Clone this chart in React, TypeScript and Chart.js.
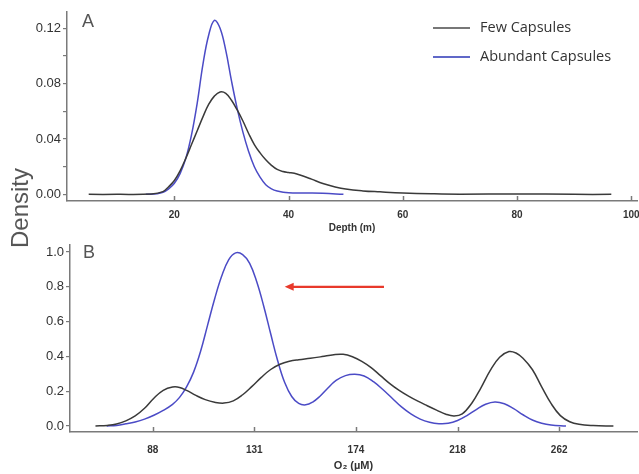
import React, { useEffect, useRef } from 'react';
import { Chart, registerables } from 'chart.js';
Chart.register(...registerables);

// ---- Panel A: density vs depth ----
const depthFewA = [5, 10, 16, 18, 19, 20, 21, 22, 23, 24, 25, 26, 27, 28, 29, 30, 31, 32, 33, 34, 35, 36, 37, 38, 39, 40, 41, 42, 44, 46, 48, 50, 53, 56, 60, 65, 70, 80, 90, 96.5];
const densFewA = [0, 0, 0.0003, 0.002, 0.0055, 0.010, 0.017, 0.026, 0.036, 0.046, 0.056, 0.065, 0.071, 0.074, 0.073, 0.068, 0.061, 0.053, 0.044, 0.036, 0.030, 0.025, 0.021, 0.018, 0.0165, 0.0158, 0.0152, 0.014, 0.011, 0.0078, 0.0055, 0.0038, 0.0025, 0.0018, 0.001, 0.0004, 0.0001, 0.0003, 0, 0];
const depthAbA = [15, 17, 18, 19, 20, 21, 22, 23, 24, 25, 26, 27, 28, 29, 30, 31, 32, 33, 34, 35, 36, 37, 38, 40, 43, 46, 49.6];
const densAbA = [0, 0.0005, 0.0015, 0.004, 0.008, 0.015, 0.026, 0.043, 0.066, 0.094, 0.115, 0.1258, 0.12, 0.104, 0.082, 0.062, 0.045, 0.031, 0.02, 0.0125, 0.007, 0.004, 0.0025, 0.0012, 0.001, 0.0008, 0];
const xTicksA = [20, 40, 60, 80, 100];
const xLabelsA = ['20', '40', '60', '80', '100'];
const yTicksA = [0, 0.02, 0.04, 0.06, 0.08, 0.1, 0.12];
const yLabelsA = ['0.00', '', '0.04', '', '0.08', '', '0.12'];

// ---- Panel B: density vs O2 ----
const o2FewB = [63, 68, 72, 76, 80, 84, 88, 92, 96, 99, 102, 106, 110, 114, 118, 122, 126, 130, 134, 138, 142, 146, 150, 155, 160, 165, 169, 173, 177, 181, 185, 189, 193, 197, 201, 205, 209, 213, 216.5, 220, 224, 228, 232, 236, 240, 243, 246, 250, 254, 258, 262, 266, 270, 276, 284.7];
const densFewB = [0, 0.004, 0.012, 0.03, 0.058, 0.102, 0.16, 0.205, 0.224, 0.222, 0.205, 0.176, 0.152, 0.137, 0.132, 0.145, 0.18, 0.228, 0.28, 0.325, 0.355, 0.372, 0.381, 0.389, 0.399, 0.41, 0.412, 0.398, 0.372, 0.336, 0.29, 0.244, 0.205, 0.172, 0.143, 0.117, 0.092, 0.068, 0.058, 0.07, 0.13, 0.22, 0.32, 0.395, 0.428, 0.42, 0.39, 0.325, 0.225, 0.13, 0.06, 0.025, 0.01, 0.003, 0];
const o2AbB = [67.8, 72, 76, 80, 84, 88, 92, 96, 99, 102, 105, 108, 111, 114, 117, 120, 123, 126, 129, 132, 135, 138, 141, 144, 147, 150, 153, 156, 159, 162, 166, 170, 174, 178, 182, 186, 190, 194, 198, 202, 206, 210, 214, 218, 222, 226, 230, 234, 238, 242, 246, 250, 254, 258, 264.4];
const densAbB = [0, 0.004, 0.013, 0.024, 0.04, 0.062, 0.09, 0.125, 0.165, 0.225, 0.31, 0.43, 0.58, 0.73, 0.86, 0.955, 0.995, 0.985, 0.935, 0.83, 0.69, 0.53, 0.375, 0.25, 0.17, 0.13, 0.122, 0.138, 0.17, 0.212, 0.262, 0.29, 0.298, 0.288, 0.255, 0.21, 0.16, 0.11, 0.07, 0.04, 0.022, 0.014, 0.016, 0.032, 0.06, 0.095, 0.125, 0.138, 0.128, 0.1, 0.065, 0.035, 0.016, 0.006, 0];
const xTicksB = [87.5, 131, 174.5, 218, 261.5];
const xLabelsB = ['88', '131', '174', '218', '262'];
const yTicksB = [0, 0.2, 0.4, 0.6, 0.8, 1.0];
const yLabelsB = ['0.0', '0.2', '0.4', '0.6', '0.8', '1.0'];
const arrowXB = [186.5, 144];
const arrowYB = 0.8;

const seriesNames = ['Few Capsules', 'Abundant Capsules'];
const FEW = '#3a3a3a';
const AB = '#4b4bc6';
const AXIS = '#7a7a7a';
const FONT = "'Liberation Sans', Arial, sans-serif";

const pts = (xs: number[], ys: number[]) => xs.map((x, i) => ({ x, y: ys[i] }));

function makePlugin(letter: string, lx: number, ly: number, arrow: boolean) {
  return {
    id: 'extras' + letter,
    afterDraw(chart: any) {
      const ctx = chart.ctx;
      const xs = chart.scales.x;
      const ys = chart.scales.y;
      const area = chart.chartArea;
      ctx.save();
      ctx.strokeStyle = AXIS;
      ctx.lineWidth = 1.5;
      xs.ticks.forEach((t: any) => {
        const px = Math.round(xs.getPixelForValue(t.value)) + 0.5;
        ctx.beginPath();
        ctx.moveTo(px, area.bottom);
        ctx.lineTo(px, area.bottom - 5);
        ctx.stroke();
      });
      ctx.fillStyle = '#555';
      ctx.font = `18px ${FONT}`;
      ctx.textBaseline = 'middle';
      ctx.textAlign = 'left';
      ctx.fillText(letter, lx, ly);
      if (arrow) {
        const x1 = xs.getPixelForValue(arrowXB[0]);
        const x2 = xs.getPixelForValue(arrowXB[1]);
        const y = ys.getPixelForValue(arrowYB);
        ctx.strokeStyle = '#e8392b';
        ctx.fillStyle = '#e8392b';
        ctx.lineWidth = 2.2;
        ctx.beginPath();
        ctx.moveTo(x1, y);
        ctx.lineTo(x2 + 6, y);
        ctx.stroke();
        ctx.beginPath();
        ctx.moveTo(x2, y);
        ctx.lineTo(x2 + 9, y - 4);
        ctx.lineTo(x2 + 9, y + 4);
        ctx.closePath();
        ctx.fill();
      }
      ctx.restore();
    },
  };
}

function buildConfig(opts: any) {
  const {
    fewX, fewY, abX, abY, xMin, xMax, yMin, yMax, xTicks, xLabels, yTicks, yLabels,
    xTitle, xTitleSize, yWidth, xHeight, padTop, tickPadX, titlePadB, plugin,
  } = opts;
  return {
    type: 'line',
    data: {
      datasets: [
        { label: seriesNames[0], data: pts(fewX, fewY), borderColor: FEW, borderWidth: 1.5, pointRadius: 0, fill: false, tension: 0.4 },
        { label: seriesNames[1], data: pts(abX, abY), borderColor: AB, borderWidth: 1.5, pointRadius: 0, fill: false, tension: 0.4 },
      ],
    },
    options: {
      animation: false,
      responsive: false,
      devicePixelRatio: 1,
      layout: { padding: { top: padTop, right: 2, left: 0, bottom: 0 } },
      plugins: { legend: { display: false }, tooltip: { enabled: false } },
      scales: {
        x: {
          type: 'linear',
          min: xMin,
          max: xMax,
          afterBuildTicks: (s: any) => { s.ticks = xTicks.map((v: number) => ({ value: v })); },
          afterFit: (s: any) => { s.height = xHeight; s.paddingLeft = 0; s.paddingRight = 0; },
          ticks: {
            autoSkip: false,
            maxRotation: 0,
            padding: tickPadX,
            color: '#333',
            font: { family: FONT, size: 10, weight: 'bold' },
            callback: (_v: any, i: number) => xLabels[i],
          },
          grid: { display: false, drawTicks: false },
          border: { display: true, color: AXIS, width: 1.5 },
          title: {
            display: true,
            text: xTitle,
            color: '#333',
            font: { family: FONT, size: xTitleSize, weight: 'bold' },
            padding: { top: 0, bottom: titlePadB },
          },
        },
        y: {
          type: 'linear',
          min: yMin,
          max: yMax,
          afterBuildTicks: (s: any) => { s.ticks = yTicks.map((v: number) => ({ value: v })); },
          afterFit: (s: any) => { s.width = yWidth; s.paddingTop = 0; s.paddingBottom = 0; },
          ticks: {
            padding: 2,
            color: '#333',
            font: { family: FONT, size: 13 },
            callback: (_v: any, i: number) => yLabels[i],
          },
          grid: { display: true, drawOnChartArea: false, drawTicks: true, tickLength: 4, color: AXIS, lineWidth: 1.2 },
          border: { display: true, color: AXIS, width: 1.5 },
        },
      },
    },
    plugins: [plugin],
  };
}

export default function App() {
  const refA = useRef<HTMLCanvasElement>(null);
  const refB = useRef<HTMLCanvasElement>(null);

  useEffect(() => {
    const cA = new Chart(refA.current as any, buildConfig({
      fewX: depthFewA, fewY: densFewA, abX: depthAbA, abY: densAbA,
      xMin: 1.2, xMax: 101, yMin: -0.0048, yMax: 0.1318,
      xTicks: xTicksA, xLabels: xLabelsA, yTicks: yTicksA, yLabels: yLabelsA,
      xTitle: 'Depth (m)', xTitleSize: 10, yWidth: 67, xHeight: 35, padTop: 12,
      tickPadX: 8, titlePadB: 2, plugin: makePlugin('A', 82, 22, false),
    }) as any);
    const cB = new Chart(refB.current as any, buildConfig({
      fewX: o2FewB, fewY: densFewB, abX: o2AbB, abY: densAbB,
      xMin: 52.1, xMax: 294.8, yMin: -0.034, yMax: 1.04,
      xTicks: xTicksB, xLabels: xLabelsB, yTicks: yTicksB, yLabels: yLabelsB,
      xTitle: 'O\u2082 (\u00b5M)', xTitleSize: 11, yWidth: 70, xHeight: 42, padTop: 9,
      tickPadX: 12, titlePadB: 1.4, plugin: makePlugin('B', 83, 17, true),
    }) as any);
    return () => { cA.destroy(); cB.destroy(); };
  }, []);

  const legendText: React.CSSProperties = {
    position: 'absolute', left: 480, fontFamily: "'Open Sans', 'Noto Sans', sans-serif",
    fontSize: 14.5, color: '#333', lineHeight: '20px', whiteSpace: 'nowrap',
  };

  return (
    <div style={{ position: 'fixed', left: 0, top: 0, width: 639, height: 474, background: '#fff', overflow: 'hidden' }}>
      <canvas ref={refA} width={639} height={236} style={{ position: 'absolute', left: 0, top: 0 }} />
      <canvas ref={refB} width={639} height={238} style={{ position: 'absolute', left: 0, top: 236 }} />
      <div style={{
        position: 'absolute', left: 20, top: 208, transform: 'translate(-50%, -50%) rotate(-90deg)',
        fontFamily: FONT, fontSize: 24, color: '#555', lineHeight: '24px', whiteSpace: 'nowrap',
      }}>Density</div>
      <div style={{ position: 'absolute', left: 433, top: 27, width: 37, height: 0, borderTop: '2px solid #777' }} />
      <div style={{ ...legendText, top: 17 }}>{seriesNames[0]}</div>
      <div style={{ position: 'absolute', left: 433, top: 56, width: 37, height: 0, borderTop: '2px solid #6068c8' }} />
      <div style={{ ...legendText, top: 46 }}>{seriesNames[1]}</div>
    </div>
  );
}
